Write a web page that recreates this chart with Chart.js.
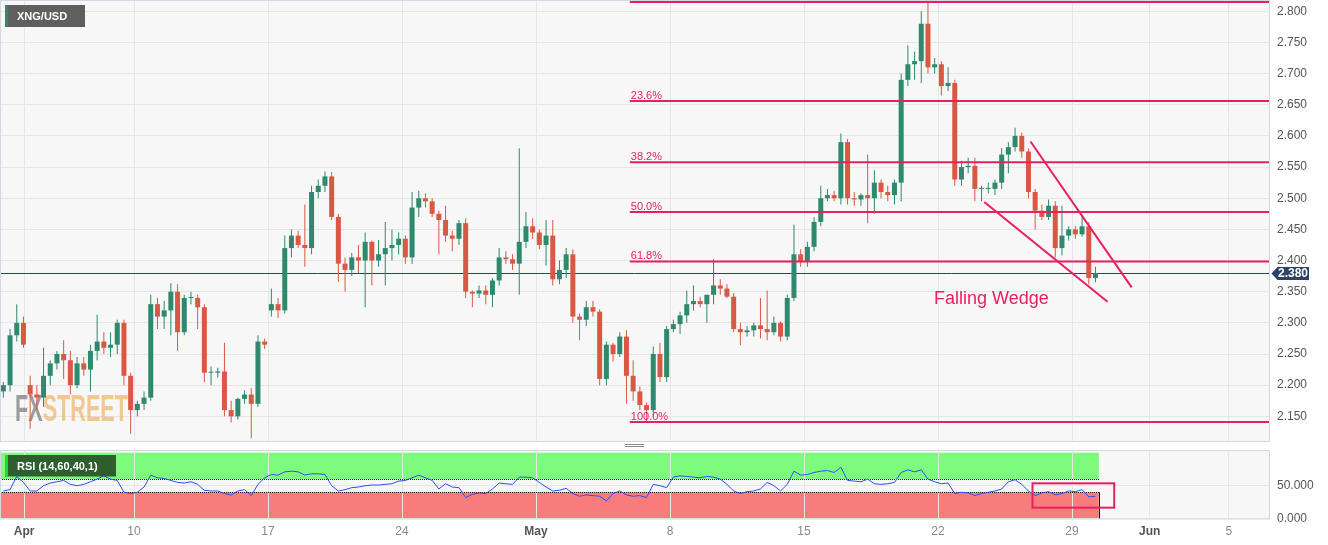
<!DOCTYPE html>
<html>
<head>
<meta charset="utf-8">
<script src="https://cdn.jsdelivr.net/npm/chart.js@4.4.0/dist/chart.umd.min.js"></script>
<style>
  html, body { margin: 0; padding: 0; background: #fff; }
  #wrap { position: relative; width: 1328px; height: 545px; overflow: hidden; }
  canvas { position: absolute; left: 0; }
  #priceChart { top: 0; }
  #rsiChart { top: 450px; }
</style>
</head>
<body>
<div id="wrap">
  <canvas id="priceChart" width="1328" height="450"></canvas>
  <canvas id="rsiChart" width="1328" height="95"></canvas>
</div>
<script>
// XNG/USD, 4 bars per trading day, Mar 31 -> May 29
const opens = [
  2.190,2.200,2.280,2.300,2.200,2.185,2.180,2.215,2.235,2.250,
  2.240,2.200,2.235,2.225,2.255,2.270,2.260,2.265,2.300,2.215,
  2.160,2.170,2.180,2.330,2.310,2.320,2.350,2.285,2.340,2.340,
  2.325,2.220,2.220,2.222,2.160,2.150,2.178,2.185,2.170,2.270,
  2.320,2.330,2.320,2.420,2.440,2.425,2.420,2.510,2.520,2.535,
  2.470,2.395,2.385,2.405,2.400,2.430,2.400,2.410,2.420,2.425,
  2.435,2.405,2.485,2.500,2.495,2.475,2.465,2.440,2.435,2.460,
  2.350,2.347,2.352,2.345,2.368,2.405,2.402,2.395,2.430,2.455,
  2.445,2.425,2.440,2.370,2.385,2.410,2.310,2.305,2.325,2.318,
  2.210,2.265,2.250,2.278,2.215,2.190,2.168,2.160,2.250,2.213,
  2.290,2.298,2.312,2.330,2.335,2.330,2.345,2.360,2.355,2.342,
  2.290,2.285,2.288,2.296,2.290,2.285,2.300,2.278,2.340,2.410,
  2.398,2.422,2.462,2.500,2.505,2.500,2.590,2.500,2.498,2.505,
  2.500,2.525,2.510,2.505,2.525,2.690,2.715,2.720,2.780,2.710,
  2.715,2.680,2.685,2.530,2.550,2.552,2.515,2.515,2.515,2.525,
  2.570,2.582,2.600,2.575,2.510,2.480,2.470,2.488,2.420,2.440,
  2.450,2.442,2.455,2.372
];
const highs = [
  2.205,2.290,2.330,2.310,2.215,2.200,2.260,2.240,2.255,2.272,
  2.255,2.245,2.245,2.265,2.313,2.285,2.285,2.305,2.305,2.220,
  2.175,2.190,2.345,2.340,2.335,2.364,2.362,2.345,2.350,2.345,
  2.330,2.230,2.228,2.268,2.175,2.180,2.192,2.195,2.280,2.275,
  2.355,2.340,2.440,2.450,2.448,2.490,2.520,2.530,2.543,2.542,
  2.475,2.405,2.412,2.425,2.445,2.432,2.433,2.462,2.450,2.445,
  2.440,2.510,2.512,2.508,2.500,2.480,2.488,2.448,2.465,2.468,
  2.352,2.360,2.360,2.372,2.420,2.415,2.410,2.580,2.478,2.468,
  2.450,2.465,2.465,2.400,2.420,2.418,2.315,2.335,2.335,2.322,
  2.270,2.268,2.285,2.288,2.240,2.198,2.172,2.262,2.268,2.295,
  2.305,2.318,2.352,2.360,2.342,2.345,2.402,2.370,2.362,2.348,
  2.300,2.295,2.300,2.340,2.352,2.310,2.302,2.345,2.458,2.418,
  2.430,2.470,2.520,2.515,2.512,2.604,2.595,2.510,2.508,2.570,
  2.545,2.530,2.520,2.530,2.700,2.745,2.735,2.800,2.815,2.725,
  2.720,2.710,2.690,2.560,2.565,2.565,2.520,2.525,2.530,2.580,
  2.590,2.613,2.605,2.580,2.515,2.490,2.498,2.495,2.488,2.455,
  2.455,2.470,2.462,2.390
];
const lows = [
  2.180,2.190,2.270,2.260,2.130,2.160,2.165,2.200,2.225,2.210,
  2.185,2.195,2.215,2.190,2.240,2.250,2.245,2.250,2.200,2.122,
  2.150,2.160,2.175,2.290,2.290,2.280,2.255,2.280,2.330,2.290,
  2.205,2.200,2.212,2.150,2.140,2.145,2.170,2.115,2.165,2.258,
  2.310,2.308,2.315,2.405,2.420,2.390,2.410,2.500,2.510,2.465,
  2.366,2.350,2.375,2.380,2.325,2.360,2.390,2.360,2.400,2.410,
  2.395,2.395,2.470,2.485,2.470,2.410,2.430,2.415,2.425,2.340,
  2.325,2.340,2.330,2.325,2.360,2.395,2.385,2.345,2.420,2.435,
  2.418,2.392,2.360,2.362,2.372,2.300,2.272,2.295,2.310,2.200,
  2.200,2.238,2.245,2.170,2.175,2.160,2.141,2.150,2.205,2.205,
  2.285,2.282,2.300,2.320,2.325,2.300,2.330,2.345,2.340,2.285,
  2.264,2.278,2.278,2.275,2.272,2.280,2.270,2.272,2.335,2.390,
  2.390,2.415,2.455,2.495,2.495,2.490,2.490,2.488,2.488,2.460,
  2.475,2.500,2.495,2.490,2.495,2.680,2.690,2.685,2.700,2.700,
  2.665,2.672,2.520,2.520,2.540,2.495,2.495,2.508,2.505,2.515,
  2.540,2.575,2.565,2.500,2.450,2.465,2.465,2.405,2.408,2.432,
  2.435,2.438,2.362,2.365
];
const closes = [
  2.200,2.280,2.300,2.265,2.185,2.180,2.215,2.235,2.250,2.240,
  2.200,2.235,2.225,2.255,2.270,2.260,2.265,2.300,2.215,2.160,
  2.170,2.180,2.330,2.310,2.320,2.350,2.285,2.340,2.340,2.325,
  2.220,2.220,2.222,2.160,2.150,2.178,2.185,2.170,2.270,2.265,
  2.330,2.320,2.420,2.440,2.425,2.420,2.510,2.520,2.535,2.470,
  2.395,2.385,2.405,2.400,2.430,2.400,2.410,2.420,2.425,2.435,
  2.405,2.485,2.500,2.495,2.475,2.465,2.440,2.435,2.460,2.350,
  2.347,2.352,2.345,2.368,2.405,2.402,2.395,2.430,2.455,2.445,
  2.425,2.440,2.370,2.385,2.410,2.310,2.305,2.325,2.318,2.210,
  2.265,2.250,2.278,2.215,2.190,2.168,2.160,2.250,2.213,2.290,
  2.298,2.312,2.330,2.335,2.330,2.345,2.360,2.355,2.342,2.290,
  2.285,2.288,2.296,2.290,2.285,2.300,2.278,2.340,2.410,2.398,
  2.422,2.462,2.500,2.505,2.500,2.590,2.500,2.498,2.505,2.500,
  2.525,2.510,2.505,2.525,2.690,2.715,2.720,2.780,2.710,2.715,
  2.680,2.685,2.530,2.550,2.552,2.515,2.515,2.515,2.525,2.570,
  2.582,2.600,2.575,2.510,2.480,2.470,2.488,2.420,2.440,2.450,
  2.442,2.455,2.372,2.380
];
const rsi = [
  42,44,64,55,42,42,50,54,56,58,
  52,50,52,56,60,65,60,58,40,38,
  40,48,66,62,61,58,55,54,56,52,
  43,42,42,38,36,42,44,35,52,62,
  67,66,71,72,71,66,68,68,67,50,
  42,44,47,48,50,51,51,52,53,57,
  58,62,66,62,58,45,53,48,47,32,
  37,39,38,45,54,53,52,63,63,62,
  55,48,42,43,46,38,34,36,35,34,
  27,38,42,36,34,35,32,52,50,47,
  63,65,64,63,62,64,63,60,52,42,
  38,41,42,45,55,50,42,52,72,66,
  67,70,72,73,70,78,58,57,56,60,
  53,52,53,55,70,74,71,74,60,56,
  53,54,38,40,39,35,38,40,42,45,
  56,59,52,42,35,39,41,36,38,42,
  41,44,33,34
];

const xTickPos = [3.1, 19.5, 39.5, 59.5, 79.5, 99.5, 119.5, 139.5, 159.5, 171.1, 182.9];
const xTickLabels = ['Apr', '10', '17', '24', 'May', '8', '15', '22', '29', 'Jun', '5'];
const priceTicks = [2.15, 2.2, 2.25, 2.3, 2.35, 2.4, 2.45, 2.5, 2.55, 2.6, 2.65, 2.7, 2.75, 2.8];
const rsiTicks = [0, 50];

// annotations
const fibRatios = [0, 0.236, 0.382, 0.5, 0.618, 1];
const fibStart = 93.5;
const wedgeUpper = [[153.3, 2.591], [168.4, 2.357]];
const wedgeLower = [[146.4, 2.494], [164.8, 2.334]];
const wedgeLabel = { x: 138.9, y: 2.3305, text: 'Falling Wedge' };
const rsiBands = [60, 40];
const rsiBox = [[153.6, 53.6], [165.8, 16.7]];

const GREEN = '#2e896e', RED = '#d95844', PINK = '#e91e63', NAVY = '#2c4366';
const GRID = '#e6e6e6', PANE_BORDER = '#d3d8e2';

Chart.defaults.font.family = "'Liberation Sans', Arial, sans-serif";
Chart.defaults.font.size = 12;

const idx = closes.map((_, i) => i);
const candleColor = idx.map(i => closes[i] >= opens[i] ? GREEN : RED);
const xMin = -0.5, xMax = 188.9;
const fibHigh = Math.max(...highs.slice(90, 141));
const fibLow = Math.min(...lows.slice(90, 141));
const fibLevels = fibRatios.map(r => fibHigh - r * (fibHigh - fibLow));
const lastClose = closes[closes.length - 1];

function setXTicks(scale) { scale.ticks = xTickPos.map(v => ({ value: v })); }
const isMonth = i => isNaN(Number(xTickLabels[i]));

// ---------- price pane ----------
const pricePanel = {
  id: 'pricePanel',
  beforeDraw(chart) {
    const { ctx, chartArea: a } = chart;
    ctx.save();
    ctx.fillStyle = '#fff';
    ctx.fillRect(0, 0, chart.width, chart.height);
    ctx.fillStyle = '#f7f7f7';
    ctx.fillRect(a.left, a.top, a.width, a.height);
    ctx.restore();
  },
  beforeDatasetsDraw(chart) {
    const { ctx, chartArea: a, scales: { y } } = chart;
    // watermark
    ctx.save();
    ctx.font = "bold 36px 'Liberation Sans Narrow', 'Liberation Sans', sans-serif";
    const wFX = ctx.measureText('FX').width;
    const wAll = ctx.measureText('FXSTREET').width;
    ctx.translate(15, 421);
    ctx.scale(113 / wAll, 1);
    ctx.fillStyle = 'rgba(125,125,125,0.75)';
    ctx.fillText('FX', 0, 0);
    ctx.fillStyle = 'rgba(240,175,90,0.65)';
    ctx.fillText('STREET', wFX, 0);
    ctx.restore();
    // last price line
    const yl = Math.round(y.getPixelForValue(lastClose)) + 0.5;
    ctx.save();
    ctx.strokeStyle = NAVY;
    ctx.lineWidth = 1;
    ctx.beginPath();
    ctx.moveTo(a.left, yl);
    ctx.lineTo(a.right, yl);
    ctx.stroke();
    ctx.restore();
  },
  afterDraw(chart) {
    const { ctx, chartArea: a, scales: { x, y } } = chart;
    ctx.save();
    // fib labels
    ctx.font = "11px 'Liberation Sans', Arial, sans-serif";
    ctx.fillStyle = PINK;
    ctx.textAlign = 'left';
    ctx.textBaseline = 'alphabetic';
    fibRatios.forEach((r, i) => {
      const py = y.getPixelForValue(fibLevels[i]);
      if (py < 14) return;
      ctx.fillText((r * 100).toFixed(1) + '%', x.getPixelForValue(fibStart) + 1, py - 2);
    });
    // pattern label
    ctx.font = "18px 'Liberation Sans', Arial, sans-serif";
    ctx.fillText(wedgeLabel.text, x.getPixelForValue(wedgeLabel.x), y.getPixelForValue(wedgeLabel.y));

    // symbol legend
    ctx.fillStyle = '#5f5f5f';
    ctx.fillRect(5, 5, 80, 22);
    ctx.fillStyle = GREEN;
    ctx.fillRect(5, 5, 3, 22);
    ctx.fillStyle = '#fff';
    ctx.font = "bold 11px 'Liberation Sans', Arial, sans-serif";
    ctx.textBaseline = 'middle';
    ctx.fillText('XNG/USD', 17, 16.5);

    // last price tag
    const yl = Math.round(y.getPixelForValue(lastClose)) + 0.5;
    const tx = a.right + 2.5;
    ctx.fillStyle = NAVY;
    ctx.beginPath();
    ctx.moveTo(tx, yl);
    ctx.lineTo(tx + 6, yl - 6.5);
    ctx.lineTo(a.right + 40, yl - 6.5);
    ctx.lineTo(a.right + 40, yl + 6.5);
    ctx.lineTo(tx + 6, yl + 6.5);
    ctx.closePath();
    ctx.fill();
    ctx.fillStyle = '#fff';
    ctx.font = "bold 12px 'Liberation Sans', Arial, sans-serif";
    ctx.textAlign = 'center';
    ctx.fillText(lastClose.toFixed(3), a.right + 24, yl + 0.5);

    // pane border + resize handle
    ctx.strokeStyle = PANE_BORDER;
    ctx.lineWidth = 1;
    ctx.strokeRect(a.left + 0.5, a.top + 0.5, a.width, a.height);
    ctx.strokeStyle = '#8a8a8a';
    ctx.beginPath();
    ctx.moveTo(625, 444.5); ctx.lineTo(644, 444.5);
    ctx.moveTo(625, 446.5); ctx.lineTo(644, 446.5);
    ctx.stroke();
    ctx.restore();
  }
};

const lineDs = (pts, extra) => Object.assign({
  type: 'line',
  data: pts.map(([px, py]) => ({ x: px, y: py })),
  borderColor: PINK,
  borderWidth: 2,
  pointRadius: 0,
  order: 0
}, extra);

new Chart(document.getElementById('priceChart'), {
  type: 'bar',
  data: {
    datasets: [
      ...fibLevels.map(l => lineDs([[fibStart, l], [xMax, l]])),
      lineDs(wedgeUpper),
      lineDs(wedgeLower),
      {
        type: 'bar',
        data: idx.map(i => ({ x: i, y: [opens[i], closes[i]] })),
        backgroundColor: candleColor,
        barThickness: 5,
        minBarLength: 1,
        grouped: false,
        inflateAmount: 0,
        order: 1
      },
      {
        type: 'bar',
        data: idx.map(i => ({ x: i, y: [lows[i], highs[i]] })),
        backgroundColor: candleColor,
        barThickness: 1,
        grouped: false,
        inflateAmount: 0,
        order: 2
      }
    ]
  },
  options: {
    responsive: false,
    animation: false,
    devicePixelRatio: 1,
    layout: { padding: 0 },
    plugins: { legend: { display: false }, tooltip: { enabled: false } },
    scales: {
      x: {
        type: 'linear',
        min: xMin,
        max: xMax,
        offset: false,
        afterBuildTicks: setXTicks,
        afterFit: s => { s.height = 9; s.paddingLeft = 0; s.paddingRight = 0; },
        ticks: { display: false, autoSkip: false },
        grid: { color: GRID, drawTicks: false, offset: false },
        border: { display: false }
      },
      y: {
        position: 'right',
        min: 2.1104,
        max: 2.8181,
        afterBuildTicks: s => { s.ticks = priceTicks.map(v => ({ value: v })); },
        afterFit: s => { s.width = 59; s.paddingTop = 0; s.paddingBottom = 0; },
        ticks: { callback: v => Number(v).toFixed(3), color: '#555', padding: 8, autoSkip: false },
        grid: { color: GRID, drawTicks: false },
        border: { display: false }
      }
    }
  },
  plugins: [pricePanel]
});

// ---------- RSI pane ----------
const rsiPanel = {
  id: 'rsiPanel',
  beforeDraw(chart) {
    const { ctx, chartArea: a, scales: { x, y } } = chart;
    const xr = x.getPixelForValue(idx.length - 0.5);
    ctx.save();
    ctx.fillStyle = '#fff';
    ctx.fillRect(0, 0, chart.width, chart.height);
    ctx.fillStyle = '#f7f7f7';
    ctx.fillRect(a.left, a.top, a.width, a.height);
    ctx.fillStyle = '#7dfb7d';
    ctx.fillRect(a.left, y.getPixelForValue(100), xr - a.left, y.getPixelForValue(rsiBands[0]) - y.getPixelForValue(100));
    ctx.fillStyle = '#f97c7c';
    ctx.fillRect(a.left, y.getPixelForValue(rsiBands[1]), xr - a.left, y.getPixelForValue(0) - y.getPixelForValue(rsiBands[1]));
    ctx.restore();
  },
  beforeDatasetsDraw(chart) {
    const { ctx, chartArea: a, scales: { x, y } } = chart;
    const xr = Math.round(x.getPixelForValue(idx.length - 0.5)) + 0.5;
    ctx.save();
    ctx.strokeStyle = '#111';
    ctx.lineWidth = 1;
    ctx.setLineDash([1, 1]);
    rsiBands.forEach(b => {
      const py = Math.round(y.getPixelForValue(b)) + 0.5;
      ctx.beginPath();
      ctx.moveTo(a.left, py);
      ctx.lineTo(xr, py);
      ctx.stroke();
    });
    ctx.setLineDash([]);
    ctx.beginPath();
    ctx.moveTo(xr, y.getPixelForValue(rsiBands[1]));
    ctx.lineTo(xr, y.getPixelForValue(0));
    ctx.moveTo(a.left + 0.5, y.getPixelForValue(rsiBands[1]));
    ctx.lineTo(a.left + 0.5, y.getPixelForValue(0));
    ctx.stroke();
    ctx.restore();
  },
  afterDatasetsDraw(chart) {
    const { ctx, scales: { x, y } } = chart;
    const [p0, p1] = rsiBox;
    const x0 = x.getPixelForValue(p0[0]), x1 = x.getPixelForValue(p1[0]);
    const y0 = y.getPixelForValue(p0[1]), y1 = y.getPixelForValue(p1[1]);
    ctx.save();
    ctx.strokeStyle = PINK;
    ctx.lineWidth = 2;
    ctx.strokeRect(x0, y0, x1 - x0, y1 - y0);
    ctx.restore();
  },
  afterDraw(chart) {
    const { ctx, chartArea: a } = chart;
    ctx.save();
    ctx.fillStyle = 'rgba(40,82,40,0.93)';
    ctx.fillRect(5, 5, 111, 21.5);
    ctx.fillStyle = '#16e016';
    ctx.fillRect(5, 5, 3, 21.5);
    ctx.fillStyle = '#fff';
    ctx.font = "bold 11px 'Liberation Sans', Arial, sans-serif";
    ctx.textBaseline = 'middle';
    ctx.fillText('RSI (14,60,40,1)', 17, 16.5);
    ctx.strokeStyle = PANE_BORDER;
    ctx.lineWidth = 1;
    ctx.strokeRect(a.left + 0.5, a.top - 0.5, a.width, a.height + 0.5);
    ctx.restore();
  }
};

new Chart(document.getElementById('rsiChart'), {
  type: 'line',
  data: {
    datasets: [{
      data: idx.map(i => ({ x: i, y: rsi[i] })),
      borderColor: '#2a52f2',
      borderWidth: 1,
      pointRadius: 0,
      tension: 0
    }]
  },
  options: {
    responsive: false,
    animation: false,
    devicePixelRatio: 1,
    layout: { padding: { top: 1, left: 0, right: 0, bottom: 0 } },
    plugins: { legend: { display: false }, tooltip: { enabled: false } },
    scales: {
      x: {
        type: 'linear',
        min: xMin,
        max: xMax,
        afterBuildTicks: setXTicks,
        afterFit: s => { s.height = 26; s.paddingLeft = 0; s.paddingRight = 0; },
        ticks: {
          autoSkip: false,
          maxRotation: 0,
          padding: 5,
          callback: (v, i) => xTickLabels[i],
          color: c => isMonth(c.index) ? '#555' : '#888',
          font: c => ({ size: 12, weight: isMonth(c.index) ? 'bold' : 'normal' })
        },
        grid: { color: GRID, drawTicks: false },
        border: { display: false }
      },
      y: {
        position: 'right',
        min: -0.5,
        max: 102.6,
        afterBuildTicks: s => { s.ticks = rsiTicks.map(v => ({ value: v })); },
        afterFit: s => { s.width = 59; s.paddingTop = 0; s.paddingBottom = 0; },
        ticks: { callback: v => Number(v).toFixed(3), color: '#555', padding: 8, autoSkip: false },
        grid: { color: GRID, drawTicks: false },
        border: { display: false }
      }
    }
  },
  plugins: [rsiPanel]
});
</script>
</body>
</html>
